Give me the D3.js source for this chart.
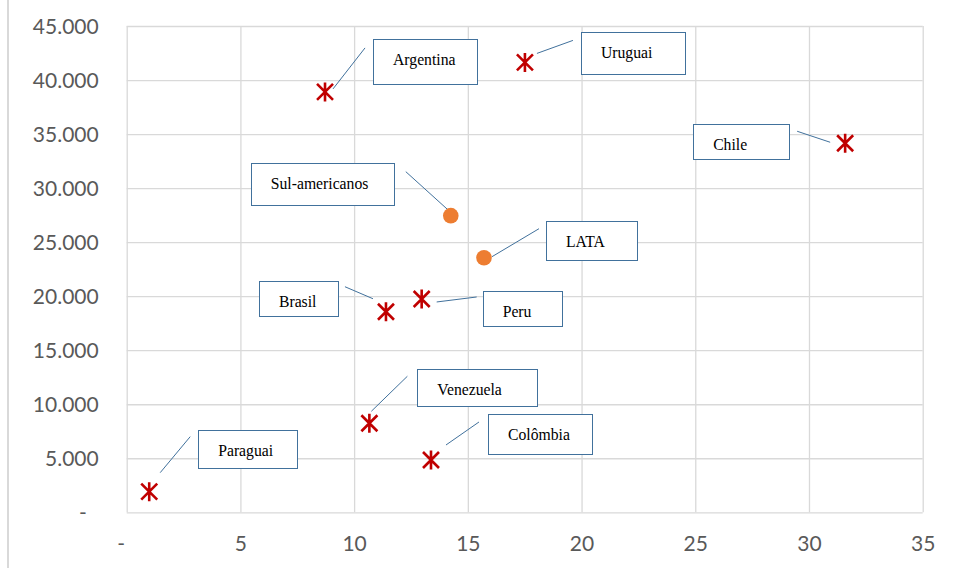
<!DOCTYPE html>
<html>
<head>
<meta charset="utf-8">
<script src="https://cdn.jsdelivr.net/npm/d3@7"></script>
<style>
  html, body { margin: 0; padding: 0; background: #fff; }
  svg { display: block; }
</style>
</head>
<body>
<svg id="chart" width="956" height="568"></svg>
<script>
// Countries (red asterisks)
const countries = ["Argentina", "Uruguai", "Chile", "Brasil", "Peru", "Venezuela", "Colômbia", "Paraguai"];
const countryX  = [8.72, 17.51, 31.59, 11.40, 12.97, 10.67, 13.38, 0.99];
const countryY  = [38900, 41630, 34150, 18560, 19740, 8240, 4840, 1910];

// Regional aggregates (orange dots)
const aggregates = ["Sul-americanos", "LATA"];
const aggregateX = [14.25, 15.71];
const aggregateY = [27450, 23560];

// Axis ticks
const xTicks = [0, 5, 10, 15, 20, 25, 30, 35];
const yTicks = [0, 5000, 10000, 15000, 20000, 25000, 30000, 35000, 40000, 45000];

// Callout placement, in pixels relative to each point:
// box left/top offset, box size, leader line start and end
const callouts = {
  "Argentina":      { bx: 48,   by: -53, bw: 104, bh: 45, l1: [40, -44],  l2: [8, -3] },
  "Uruguai":        { bx: 56,   by: -30, bw: 104, bh: 42, l1: [48, -22],  l2: [12, -9] },
  "Chile":          { bx: -152, by: -19, bw: 96,  bh: 35, l1: [-48, -12], l2: [-15, -1] },
  "Sul-americanos": { bx: -200, by: -53, bw: 143, bh: 42, l1: [-45, -44], l2: [-3, -6] },
  "LATA":           { bx: 62,   by: -37, bw: 91,  bh: 39, l1: [55, -29],  l2: [8, -1] },
  "Brasil":         { bx: -127, by: -31, bw: 79,  bh: 35, l1: [-41, -25], l2: [-13, -13] },
  "Peru":           { bx: 61,   by: -8,  bw: 79,  bh: 35, l1: [55, -2],   l2: [15, 3] },
  "Venezuela":      { bx: 48,   by: -54, bw: 120, bh: 37, l1: [38, -47],  l2: [2, -12] },
  "Colômbia":       { bx: 57,   by: -46, bw: 104, bh: 40, l1: [48, -38],  l2: [15, -15] },
  "Paraguai":       { bx: 49,   by: -62, bw: 99,  bh: 38, l1: [41, -55],  l2: [11, -19] }
};

const svg = d3.select("#chart");
const margin = { left: 126.7, top: 26, right: 956 - 922.7, bottom: 568 - 512.3 };
const W = 956 - margin.left - margin.right;
const H = 568 - margin.top - margin.bottom;

const x = d3.scaleLinear().domain([0, 35]).range([margin.left, margin.left + W]);
const y = d3.scaleLinear().domain([0, 45000]).range([margin.top + H, margin.top]);

// Brazilian number style: 45.000, zero shown as a dash
const ptBR = d3.formatLocale({ decimal: ",", thousands: ".", grouping: [3], currency: ["R$", ""] });
const fmtY = v => v === 0 ? "-" : ptBR.format(",")(v);
const fmtX = v => v === 0 ? "-" : String(v);

// Chart frame edge on the left
svg.append("line")
  .attr("x1", 8).attr("x2", 8).attr("y1", 0).attr("y2", 568)
  .attr("stroke", "#d9d9d9").attr("stroke-width", 2);

// Gridlines
const grid = svg.append("g").attr("class", "grid");
grid.append("g")
  .attr("transform", `translate(0,${margin.top + H})`)
  .call(d3.axisBottom(x).tickValues(xTicks).tickSize(-H).tickFormat(""))
  .call(g => g.select(".domain").remove());
grid.append("g")
  .attr("transform", `translate(${margin.left},0)`)
  .call(d3.axisLeft(y).tickValues(yTicks).tickSize(-W).tickFormat(""))
  .call(g => g.select(".domain").remove());
grid.selectAll("line").attr("stroke", "#d9d9d9").attr("stroke-width", 1.3);

// Tick labels
const tickFont = "Lato, 'Open Sans', sans-serif";
const yAxis = svg.append("g")
  .attr("transform", `translate(${margin.left},0)`)
  .call(d3.axisLeft(y).tickValues(yTicks).tickSize(0).tickPadding(28).tickFormat(fmtY));
yAxis.select(".domain").remove();
yAxis.selectAll("text")
  .attr("fill", "#595959").style("font-family", tickFont).style("font-size", "21px")
  .attr("dy", "0.35em")
  .filter(d => d === 0).attr("dx", -12);

const xAxis = svg.append("g")
  .attr("transform", `translate(0,${margin.top + H})`)
  .call(d3.axisBottom(x).tickValues(xTicks).tickSize(0).tickPadding(24).tickFormat(fmtX));
xAxis.select(".domain").remove();
xAxis.selectAll("text")
  .attr("fill", "#595959").style("font-family", tickFont).style("font-size", "21px")
  .filter(d => d === 0).attr("dx", -6);

// Combine both series for callouts
const countryPts = countries.map((n, i) => ({ name: n, x: countryX[i], y: countryY[i] }));
const aggregatePts = aggregates.map((n, i) => ({ name: n, x: aggregateX[i], y: aggregateY[i] }));
const allPts = countryPts.concat(aggregatePts);

// Callout leader lines and boxes
const cg = svg.append("g").attr("class", "callouts");
allPts.forEach(p => {
  const c = callouts[p.name];
  const px = x(p.x), py = y(p.y);
  cg.append("line")
    .attr("x1", px + c.l1[0]).attr("y1", py + c.l1[1])
    .attr("x2", px + c.l2[0]).attr("y2", py + c.l2[1])
    .attr("stroke", "#41719c").attr("stroke-width", 1);
  cg.append("rect")
    .attr("x", Math.round(px + c.bx) + 0.5).attr("y", Math.round(py + c.by) + 0.5)
    .attr("width", c.bw).attr("height", c.bh)
    .attr("fill", "#fff").attr("stroke", "#41719c").attr("stroke-width", 1);
  cg.append("text")
    .attr("x", px + c.bx + 20).attr("y", py + c.by + 26)
    .attr("fill", "#000")
    .style("font-family", "'Liberation Serif', 'Times New Roman', serif")
    .style("font-size", "15.7px")
    .text(p.name);
});

// Country markers: six-armed asterisk
const star = "M-8,-8L8,8M-8,8L8,-8M0,-9.5L0,9.5";
svg.append("g").selectAll("path")
  .data(countryPts)
  .join("path")
  .attr("transform", d => `translate(${x(d.x)},${y(d.y)})`)
  .attr("d", star)
  .attr("fill", "none")
  .attr("stroke", "#c00000")
  .attr("stroke-width", 2.6);

// Aggregate markers
svg.append("g").selectAll("circle")
  .data(aggregatePts)
  .join("circle")
  .attr("cx", d => x(d.x))
  .attr("cy", d => y(d.y))
  .attr("r", 7.8)
  .attr("fill", "#ed7d31");
</script>
</body>
</html>
